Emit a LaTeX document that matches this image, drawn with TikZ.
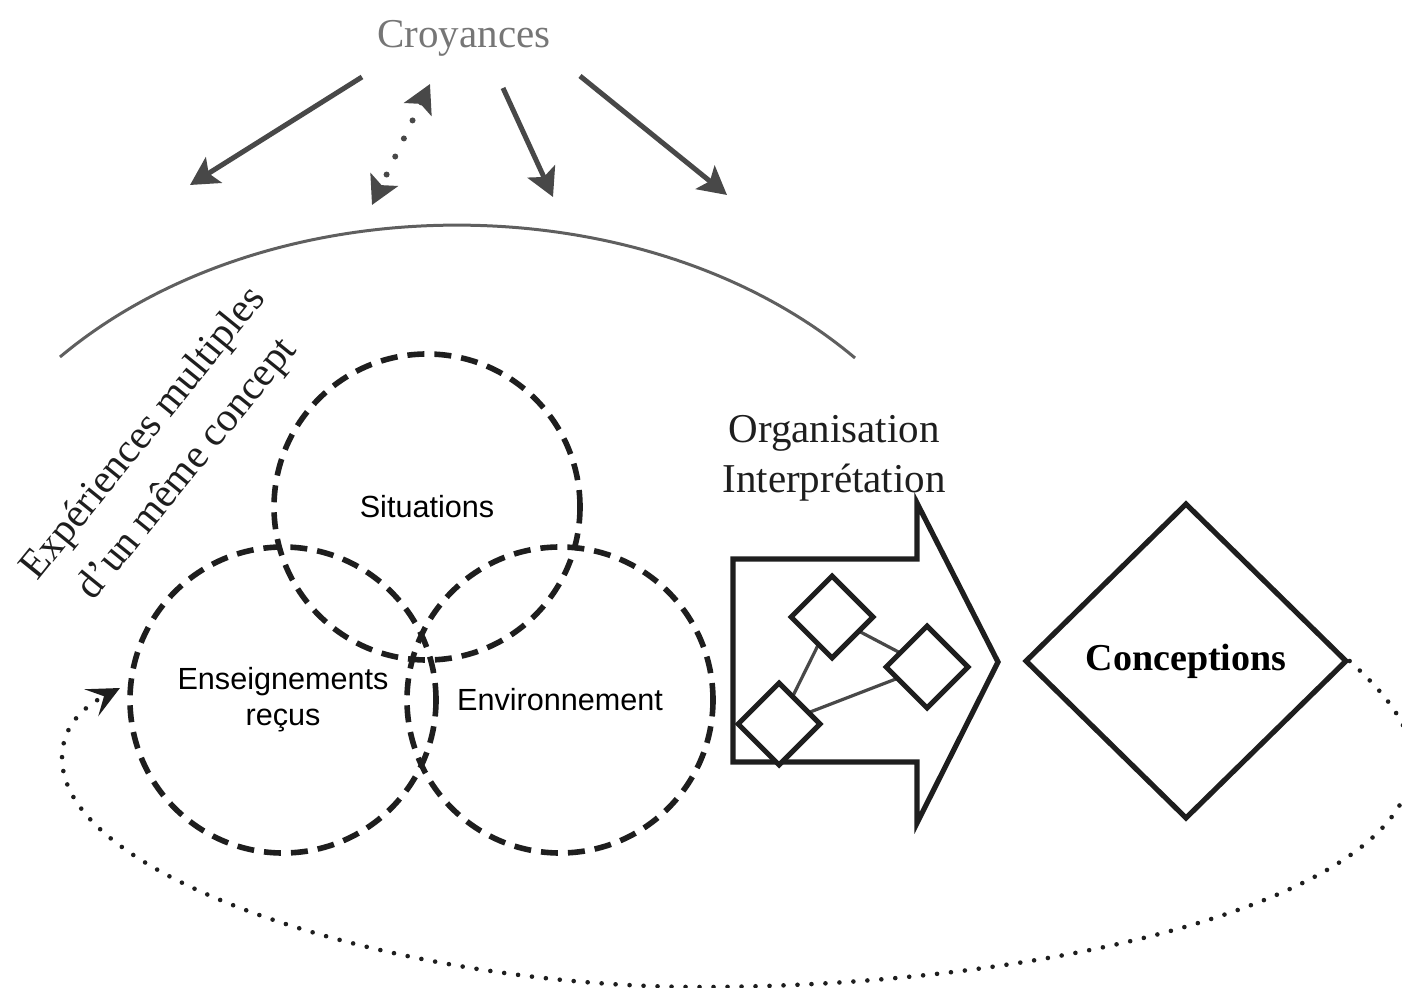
\documentclass[tikz,border=0pt]{standalone}
\usepackage{fontspec}
\setmainfont{Liberation Serif}
\setsansfont{Liberation Sans}
\usepackage{tikz}
\usetikzlibrary{shapes.geometric,arrows.meta,positioning}
\definecolor{grisclair}{RGB}{118,118,118}
\definecolor{grisarc}{RGB}{95,95,95}
\definecolor{grisfonce}{RGB}{72,72,72}
\definecolor{noir}{RGB}{30,30,30}
\tikzstyle{titre}=[inner sep=0pt,align=center,font=\fontsize{20.5}{25}\selectfont]
\tikzstyle{cercle}=[circle,draw=noir,line width=2.8pt,dash pattern=on 8.5pt off 5pt,
  minimum size=153pt,inner sep=0pt,align=center,font=\sffamily\fontsize{15.3}{18}\selectfont]
\tikzstyle{losange}=[diamond,draw=noir,line width=2.5pt,fill=white,minimum size=42pt,inner sep=0pt]
\tikzstyle{grandlosange}=[diamond,draw=noir,line width=2.6pt,minimum width=161pt,
  minimum height=158pt,inner sep=0pt,font=\bfseries\fontsize{19}{22}\selectfont]
\tikzstyle{fleche}=[-{Stealth[length=14pt,width=15pt,inset=3pt]},line width=2.5pt,draw=grisfonce]
\tikzstyle{flechepoint}=[{Stealth[length=14pt,width=15pt,inset=3pt]}-{Stealth[length=14pt,width=15pt,inset=3pt]},
  line width=3pt,line cap=round,dash pattern=on 0pt off 10pt,draw=grisfonce]
\tikzstyle{boucle}=[-{Stealth[length=16pt,width=15pt,inset=7pt]},line width=2.3pt,
  line cap=round,dash pattern=on 0pt off 7pt,draw=noir]

\begin{document}
\begin{tikzpicture}[x=0.5pt,y=-0.5pt]
  \useasboundingbox (0,0) rectangle (1402,988);

  % Croyances
  \node[titre,text=grisclair] (croy) at (464,38) {Croyances};
  \coordinate (f1a) at (362,77);  \coordinate (f1b) at (190,185);
  \coordinate (f2a) at (430,84);  \coordinate (f2b) at (372,205);
  \coordinate (f3a) at (503,88);  \coordinate (f3b) at (553,197);
  \coordinate (f4a) at (580,76);  \coordinate (f4b) at (727,195);
  \draw[fleche] (f1a) -- (f1b);
  \draw[flechepoint] (f2a) -- (f2b);
  \draw[fleche] (f3a) -- (f3b);
  \draw[fleche] (f4a) -- (f4b);

  % Arc
  \coordinate (arcg) at (60,357);
  \coordinate (arcd) at (855,358);
  \draw[line width=1.5pt,grisarc] (arcg) .. controls (270,181) and (645,181) .. (arcd);

  % Experiences
  \node[titre,rotate=51,text=noir,font=\fontsize{20.5}{28}\selectfont] (exp) at (166,452)
    {Expériences multiples\\d’un même concept};
  \node[cercle] (sit) at (427,507) {Situations};
  \node[cercle] (ens) at (283,700) {Enseignements\\reçus};
  \node[cercle] (env) at (560,700) {Environnement};

  % Organisation
  \node[titre,text=noir] (orga) at (834,458) {Organisation\\Interprétation};
  \draw[line width=2.6pt,draw=noir,fill=white,line join=miter]
    (733,559) -- (917,559) -- (917,503) -- (998,662) -- (917,823) -- (917,762) -- (733,762) -- cycle;
  \draw[line width=1.6pt,grisfonce] (832,617) -- (927,667) -- (779,724) -- cycle;
  \node[losange] (d1) at (832,617) {};
  \node[losange] (d2) at (927,667) {};
  \node[losange] (d3) at (779,724) {};

  % Conceptions
  \node[grandlosange] (concep) at (1186,661) {Conceptions};
  \coordinate (bd) at (1412,762);
  \coordinate (bb) at (700,987);
  \coordinate (bg) at (62,758);
  \coordinate (pointe) at (120,688);
  \draw[boucle] (concep.east) .. controls (1379,688) and (1412,722) .. (bd)
    .. controls (1412,900) and (1050,987) .. (bb)
    .. controls (400,987) and (62,880) .. (bg)
    .. controls (62,725) and (85,706) .. (pointe);

\end{tikzpicture}
\end{document}
